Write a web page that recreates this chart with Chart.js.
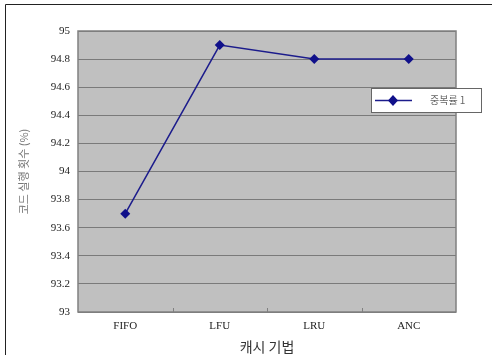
<!DOCTYPE html>
<html>
<head>
<meta charset="utf-8">
<script src="https://cdn.jsdelivr.net/npm/chart.js@4/dist/chart.umd.min.js"></script>
<style>
  body { margin: 0; background: #fff; }
  #wrap { width: 492px; height: 355px; position: relative; }
</style>
</head>
<body>
<div id="wrap"><canvas id="hit-chart"></canvas></div>
<script>
var categories = ['FIFO', 'LFU', 'LRU', 'ANC'];
var hitRate = [93.7, 94.9, 94.8, 94.8];
var seriesLabel = '중복률 1';
var yTitle = '코드 실행 횟수 (%)';
var xTitle = '캐시 기법';

// frame around the figure + legend box drawn over the plot (like the excel chart)
var decor = {
  id: 'decor',
  beforeDraw: function(chart){
    var c = chart.ctx, a = chart.chartArea;
    c.save();
    c.fillStyle = '#fff';
    c.fillRect(0, 0, chart.width, chart.height);
    c.strokeStyle = '#222';
    c.lineWidth = 1;
    c.beginPath();
    c.moveTo(5.5, chart.height);
    c.lineTo(5.5, 4.5);
    c.lineTo(chart.width, 4.5);
    c.stroke();
    c.fillStyle = '#c0c0c0';
    c.fillRect(a.left, a.top, a.right - a.left, a.bottom - a.top);
    c.restore();
  },
  afterDatasetsDraw: function(chart){
    var c = chart.ctx, a = chart.chartArea;
    var xs = chart.scales.x;
    c.save();
    c.strokeStyle = '#808080';
    c.lineWidth = 1.5;
    c.strokeRect(a.left, a.top, a.right - a.left, a.bottom - a.top);
    c.lineWidth = 1;
    for (var i = 0; i < categories.length - 1; i++) {
      var x = Math.round((xs.getPixelForValue(i) + xs.getPixelForValue(i + 1)) / 2) + 0.5;
      c.beginPath();
      c.moveTo(x, a.bottom);
      c.lineTo(x, a.bottom - 4);
      c.stroke();
    }
    // legend
    var ds = chart.data.datasets[0];
    var lx = 371, ly = 88, lw = 110, lh = 24;
    c.fillStyle = '#fff';
    c.fillRect(lx, ly, lw, lh);
    c.strokeStyle = '#666';
    c.strokeRect(lx + 0.5, ly + 0.5, lw, lh);
    c.strokeStyle = ds.borderColor;
    c.lineWidth = 1.5;
    c.beginPath();
    c.moveTo(lx + 4, ly + 12.5);
    c.lineTo(lx + 41, ly + 12.5);
    c.stroke();
    c.fillStyle = ds.backgroundColor;
    c.beginPath();
    c.moveTo(lx + 22, ly + 7);
    c.lineTo(lx + 27, ly + 12.5);
    c.lineTo(lx + 22, ly + 18);
    c.lineTo(lx + 17, ly + 12.5);
    c.closePath();
    c.fill();
    c.fillStyle = '#666';
    c.font = '10px "Noto Sans CJK KR"';
    c.textBaseline = 'middle';
    c.fillText(ds.label, lx + 59, ly + 12.5);
    c.restore();
  }
};

var ctx = document.getElementById('hit-chart').getContext('2d');
var myChart = new Chart(ctx, {
  type: 'line',
  data: {
    labels: categories,
    datasets: [{
      label: seriesLabel,
      data: hitRate,
      borderColor: '#1c1c8c',
      backgroundColor: '#10108a',
      borderWidth: 1.5,
      pointStyle: 'rectRot',
      pointRadius: 5,
      pointBorderWidth: 0,
      tension: 0
    }]
  },
  options: {
    responsive: true,
    maintainAspectRatio: false,
    animation: false,
    layout: { padding: { left: 17, right: 36, top: 31, bottom: 0 } },
    plugins: {
      legend: { display: false },
      tooltip: { enabled: false }
    },
    scales: {
      x: {
        offset: true,
        afterFit: function(scale){ scale.height = 43; },
        grid: { display: false },
        border: { display: false },
        ticks: { color: '#222', font: { family: 'Liberation Serif', size: 11 }, padding: 0 },
        title: { display: true, text: xTitle, color: '#333', font: { family: '"Noto Sans CJK KR"', size: 14 }, padding: { top: 0, bottom: 0 } }
      },
      y: {
        min: 93,
        max: 95,
        afterFit: function(scale){ scale.width = 61; },
        grid: { color: '#7a7a7a', lineWidth: 1, drawTicks: false },
        border: { display: false },
        ticks: {
          stepSize: 0.2,
          color: '#222',
          padding: 8,
          font: { family: 'Liberation Serif', size: 11 },
          callback: function(value){ return Math.round(value * 10) / 10; }
        },
        title: { display: true, text: yTitle, color: '#777', font: { family: '"Noto Sans CJK KR"', size: 11 }, padding: 0 }
      }
    }
  },
  plugins: [decor]
});
</script>
</body>
</html>
